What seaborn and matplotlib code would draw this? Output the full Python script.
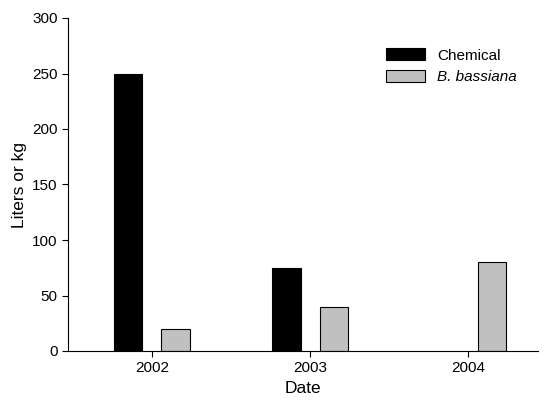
import numpy as np
import pandas as pd
import matplotlib
matplotlib.use("Agg")
import matplotlib.pyplot as plt
import seaborn as sns

years = ['2002', '2003', '2004']
chemical = [250, 75, np.nan]
bassiana = [20, 40, 80]

df = pd.DataFrame({
    'Date': years * 2,
    'Value': chemical + bassiana,
    'Treatment': ['Chemical'] * 3 + ['B. bassiana'] * 3,
})

sns.set_style("ticks")
plt.rcParams['font.family'] = ['Liberation Sans', 'DejaVu Sans']
plt.rcParams['text.color'] = 'black'
plt.rcParams['axes.labelcolor'] = 'black'
plt.rcParams['xtick.color'] = 'black'
plt.rcParams['ytick.color'] = 'black'

fig = plt.figure(figsize=(5.45, 4.04), dpi=100)
ax = fig.add_axes([68 / 545, 1 - 351 / 404, 470 / 545, 333 / 404])
sns.barplot(data=df, x='Date', y='Value', hue='Treatment',
            palette=['black', '#c0c0c0'], edgecolor='black', linewidth=0.8,
            width=0.6, gap=0.4, ax=ax)

ax.set_xlim(-0.53, 2.44)
ax.set_ylim(0, 300)
ax.set_yticks(range(0, 301, 50))
ax.set_xlabel('Date', fontsize=12.5)
ax.set_ylabel('Liters or kg', fontsize=12.5)
ax.tick_params(labelsize=11, direction='out', length=4, color='black')
sns.despine(ax=ax)
for s in ['left', 'bottom']:
    ax.spines[s].set_color('black')
    ax.spines[s].set_linewidth(0.8)

leg = ax.legend(loc='upper right', bbox_to_anchor=(0.985, 0.95), frameon=False,
                fontsize=11, handlelength=2.6, handleheight=0.8)
leg.get_texts()[1].set_fontstyle('italic')

fig.savefig('out.png', dpi=100)
